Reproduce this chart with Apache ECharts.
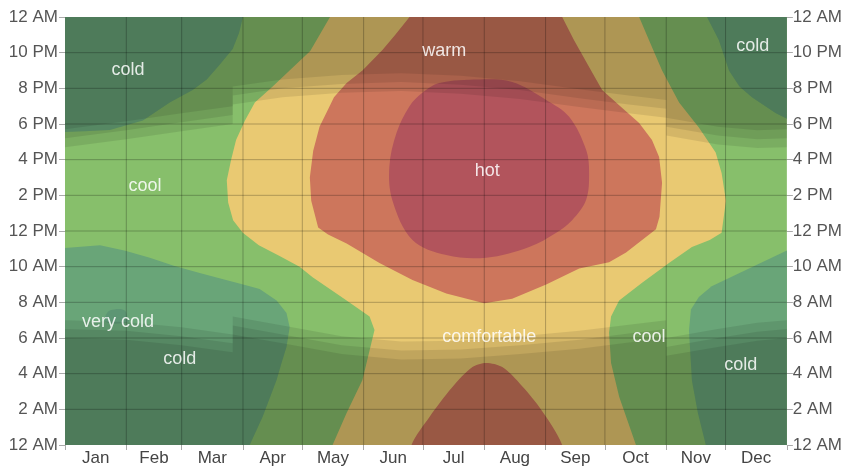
<!DOCTYPE html>
<html>
<head>
<meta charset="utf-8">
<style>
  html, body { margin: 0; padding: 0; background: #fff; }
  #main { width: 845px; height: 468px; }
</style>
<script src="https://cdn.jsdelivr.net/npm/echarts@6/dist/echarts.min.js"></script>
</head>
<body>
<div id="main"></div>
<script>
// axes
var monthNames = ['Jan', 'Feb', 'Mar', 'Apr', 'May', 'Jun', 'Jul', 'Aug', 'Sep', 'Oct', 'Nov', 'Dec'];
var monthStarts = [0, 31, 59, 90, 120, 151, 181, 212, 243, 273, 304, 334, 365];
var hourTicks = [0, 2, 4, 6, 8, 10, 12, 14, 16, 18, 20, 22, 24];
var hourLabels = ['12 AM', '2 AM', '4 AM', '6 AM', '8 AM', '10 AM', '12 PM', '2 PM', '4 PM', '6 PM', '8 PM', '10 PM', '12 AM'];

// temperature bands, [day of year, hour]
var coldMorningWest = [[0, 0], [0, 11.05], [17.7, 11.2], [30, 10.9], [42.9, 10.5], [55, 10.05], [68.1, 9.65], [80, 9.3], [93.4, 8.9], [98.4, 8.75], [107, 8.1], [112, 7.4], [113.6, 6.6], [112, 5.5], [109.5, 4.6], [107, 3.65], [100, 1.6], [93.4, 0]];
var coldEveningWest = [[0, 24], [0, 17.55], [10, 17.6], [22.7, 17.67], [39.4, 18.2], [53, 19.2], [64.6, 19.9], [71.7, 20.5], [78, 21.3], [84.8, 22.2], [88, 23.1], [90, 24]];
var coldEveningEast = [[324.6, 24], [330.6, 22.7], [335.7, 21.0], [341, 20.1], [347.3, 19.5], [359.4, 18.6], [365, 18.3], [365, 24]];
var coldMorningEast = [[324, 0], [320, 1.8], [317, 3.6], [315.5, 6.4], [316.5, 7.6], [320.5, 8.3], [327, 8.9], [344, 9.8], [365, 10.9], [365, 0]];
var veryColdSpot = [[20.5, 6.9], [21.5, 7.45], [25, 7.6], [30, 7.55], [31.5, 7.2], [32, 6.9]];
var comfortableZone = [[134, 24], [124, 22.1], [105, 20.1], [96, 19.2], [91, 18.2], [86.5, 17.1], [84, 16.0], [81.8, 14.85], [82.5, 13.6], [85, 12.6], [89.9, 11.9], [98, 11.2], [108.5, 10.6], [118.6, 10.0], [125.2, 9.4], [142.4, 8.1], [154, 7.2], [156.5, 6.45], [154, 5.3], [150.4, 3.65], [142.4, 1.8], [135.3, 0],
  [288.7, 0], [280.2, 2.7], [276.1, 4.6], [275.1, 6.3], [276.1, 7.2], [280.2, 8.1], [291.8, 9.1], [305.4, 10.2], [317, 11.1], [326, 11.5], [332, 11.9], [334.2, 13.7], [332, 15.25], [329, 16.4], [320.5, 17.8], [310.5, 19.2], [301.9, 21.0], [295.3, 22.7], [290.3, 24]];
var warmDay = [[174.2, 24], [167, 23], [160.5, 22.15], [150.4, 21.0], [142.4, 20.3], [136, 19.5], [133.8, 19.0], [128.7, 17.85], [125.5, 16.5], [123.8, 15.0], [124.5, 13.7], [128, 12.2], [133, 11.8], [142.4, 11.3], [159, 10.2], [175.7, 9.25], [192.8, 8.5], [212, 7.95], [226.1, 8.2], [243.3, 9.0], [260, 9.9], [275.1, 10.25], [283.7, 10.8], [291.8, 11.5], [298.8, 12.1], [300.6, 12.8], [301.9, 14.7], [300.4, 16.15], [296.8, 17.1], [290.3, 18.05], [280.2, 19.05], [271.6, 19.9], [265, 21.2], [257.4, 22.7], [251.4, 24]];
var warmNight = [[172, -2], [175.2, 0], [184.3, 1.57], [195.9, 3.25], [206, 4.37], [213, 4.6], [221.1, 4.37], [229.7, 3.48], [239.8, 2.13], [251.4, 0], [254, -2]];
var hotZone = [[189.3, 20.3], [209.5, 20.5], [226.1, 20.35], [243.3, 19.35], [254.9, 18.4], [263.5, 16.55], [265, 15.25], [263.5, 13.75], [256.4, 12.6], [248.4, 11.9], [234.7, 11.1], [213, 10.5], [192.8, 10.65], [175.7, 11.5], [165.6, 13.7], [164, 15.6], [167.6, 17.5], [174.2, 19.0], [180.7, 19.75]];

// daylight
var sunset = [[0, 16.7], [31, 17.15], [59, 17.6], [84.8, 18.0], [84.8, 19.1], [110, 19.5], [140, 19.75], [170, 19.85], [200, 19.7], [230, 19.4], [260, 18.95], [285, 18.6], [304, 18.35], [304, 17.35], [330, 16.85], [350, 16.65], [365, 16.7]];
var sunrise = [[0, 7.0], [31, 6.9], [59, 6.6], [84.8, 6.2], [84.8, 7.2], [110, 6.7], [140, 6.1], [170, 5.8], [200, 5.85], [230, 6.1], [260, 6.4], [285, 6.75], [304, 7.0], [304, 6.0], [330, 6.5], [350, 6.85], [365, 7.0]];
var twilightSteps = [0, 0.5, 1.0];

var regionLabels = [[31.8, 21.0, 'cold'], [40.4, 14.5, 'cool'], [26.8, 6.9, 'very cold'], [58, 4.8, 'cold'], [191.8, 22.1, 'warm'], [213.5, 15.35, 'hot'], [214.5, 6.05, 'comfortable'], [295.3, 6.05, 'cool'], [341.7, 4.5, 'cold'], [347.8, 22.4, 'cold']];

var colors = {
  cool: '#87bf6b',
  cold: '#69a578',
  veryCold: '#5d9674',
  comfortable: '#e9c972',
  warm: '#cd765c',
  hot: '#b2545c'
};
var fontFamily = 'Arial, "Liberation Sans", sans-serif';

var monthMids = [];
for (var i = 0; i < 12; i++) monthMids.push((monthStarts[i] + monthStarts[i + 1]) / 2);

var fills = [
  { pts: [[0, 0], [365, 0], [365, 24], [0, 24]], fill: colors.cool },
  { pts: coldMorningWest, fill: colors.cold },
  { pts: coldEveningWest, fill: colors.cold },
  { pts: coldEveningEast, fill: colors.cold },
  { pts: coldMorningEast, fill: colors.cold },
  { pts: veryColdSpot, fill: colors.veryCold, smooth: 0.4 },
  { pts: comfortableZone, fill: colors.comfortable },
  { pts: warmDay, fill: colors.warm },
  { pts: warmNight, fill: colors.warm, smooth: 0.3 },
  { pts: hotZone, fill: colors.hot, smooth: 0.35 }
];

var shades = [];
twilightSteps.forEach(function(off) {
  shades.push({ pts: sunset.map(function(p) { return [p[0], p[1] + off]; }).concat([[365, 24], [0, 24]]), fill: 'rgba(0,0,0,0.09)' });
  shades.push({ pts: sunrise.map(function(p) { return [p[0], p[1] - off]; }).concat([[365, 0], [0, 0]]), fill: 'rgba(0,0,0,0.09)' });
});

function polygonSeries(layers, z) {
  return {
    type: 'custom',
    z: z,
    clip: true,
    silent: true,
    data: layers.map(function(l) { return l.pts[0]; }),
    renderItem: function(params, api) {
      var l = layers[params.dataIndex];
      return {
        type: 'polygon',
        shape: { points: l.pts.map(function(p) { return api.coord(p); }), smooth: l.smooth || 0 },
        style: { fill: l.fill }
      };
    }
  };
}

var gridLines = [];
monthStarts.slice(1, 12).forEach(function(d) { gridLines.push([[d, 0], [d, 24]]); });
hourTicks.slice(1, 12).forEach(function(h) { gridLines.push([[0, h], [365, h]]); });

var myChart = echarts.init(document.getElementById('main'));

var yAxisBase = function(pos, margin) {
  return {
    type: 'value',
    position: pos,
    min: 0,
    max: 24,
    interval: 2,
    axisLine: { show: false },
    splitLine: { show: false },
    axisTick: { show: true, length: 6, lineStyle: { color: '#aaa' } },
    axisLabel: {
      margin: margin,
      fontSize: 17,
      fontFamily: fontFamily,
      color: '#555',
      formatter: function(v) { return hourLabels[Math.round(v / 2)]; }
    }
  };
};

var option = {
  backgroundColor: '#fff',
  animation: false,
  grid: { left: 65, right: 57, top: 17, bottom: 23 },
  xAxis: {
    type: 'value',
    min: 0,
    max: 365,
    axisLine: { show: false },
    splitLine: { show: false },
    axisTick: { show: true, customValues: monthStarts, length: 5, lineStyle: { color: '#aaa' } },
    axisLabel: {
      customValues: monthMids,
      margin: 5,
      fontSize: 17,
      fontFamily: fontFamily,
      color: '#444',
      formatter: function(v) {
        var best = 0;
        for (var k = 0; k < monthMids.length; k++) {
          if (Math.abs(monthMids[k] - v) < Math.abs(monthMids[best] - v)) best = k;
        }
        return monthNames[best];
      }
    }
  },
  yAxis: [yAxisBase('left', 7), yAxisBase('right', 6)],
  series: [
    polygonSeries(fills, 1),
    polygonSeries(shades, 2),
    {
      type: 'custom',
      z: 3,
      clip: true,
      silent: true,
      data: gridLines.map(function(l) { return l[0]; }),
      renderItem: function(params, api) {
        var l = gridLines[params.dataIndex];
        var a = api.coord(l[0]), b = api.coord(l[1]);
        return {
          type: 'line',
          shape: { x1: a[0], y1: a[1], x2: b[0], y2: b[1] },
          style: { stroke: 'rgba(0,0,0,0.25)', lineWidth: 1 }
        };
      }
    },
    {
      type: 'custom',
      z: 4,
      silent: true,
      data: regionLabels.map(function(r) { return [r[0], r[1]]; }),
      renderItem: function(params, api) {
        var r = regionLabels[params.dataIndex];
        var p = api.coord([r[0], r[1]]);
        return {
          type: 'text',
          x: p[0],
          y: p[1],
          style: {
            text: r[2],
            fill: 'rgba(255,255,255,0.85)',
            fontSize: 18,
            fontFamily: fontFamily,
            align: 'center',
            verticalAlign: 'middle'
          }
        };
      }
    }
  ]
};
myChart.setOption(option);
</script>
</body>
</html>
